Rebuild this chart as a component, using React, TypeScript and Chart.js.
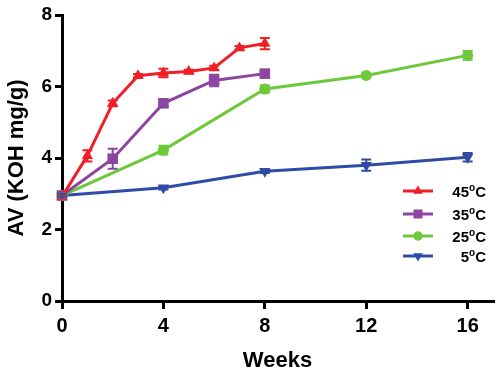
import React, { useEffect, useRef } from "react";
import { Chart, registerables } from "chart.js";

Chart.register(...registerables);

const xTicks = [0, 4, 8, 12, 16];
const yTicks = [0, 2, 4, 6, 8];

const labels = ["45", "35", "25", "5"];

const weeks45 = [0, 1, 2, 3, 4, 5, 6, 7, 8];
const av45 = [2.92, 4.06, 5.53, 6.3, 6.38, 6.42, 6.52, 7.08, 7.2];
const err45 = [0.05, 0.16, 0.08, 0.05, 0.12, 0.05, 0.06, 0.05, 0.16];

const weeks35 = [0, 2, 4, 6, 8];
const av35 = [2.95, 3.98, 5.53, 6.17, 6.36];
const err35 = [0.05, 0.28, 0.1, 0.16, 0.06];

const weeks25 = [0, 4, 8, 12, 16];
const av25 = [2.95, 4.22, 5.93, 6.31, 6.87];
const err25 = [0.05, 0.12, 0.1, 0.05, 0.12];

const weeks5 = [0, 4, 8, 12, 16];
const av5 = [2.95, 3.17, 3.63, 3.8, 4.02];
const err5 = [0.05, 0.05, 0.05, 0.16, 0.12];

const RED = "rgb(240,30,38)";
const PURPLE = "rgb(140,70,160)";
const GREEN = "rgb(110,200,60)";
const BLUE = "rgb(46,76,166)";

const FONT = "'Liberation Sans', Arial, sans-serif";

const series = [
  { w: weeks45, v: av45, e: err45, color: RED, style: "triangle", rot: 0, r: 6.5 },
  { w: weeks35, v: av35, e: err35, color: PURPLE, style: "rect", rot: 0, r: 7.5 },
  { w: weeks25, v: av25, e: err25, color: GREEN, style: "circle", rot: 0, r: 5.5 },
  { w: weeks5, v: av5, e: err5, color: BLUE, style: "triangle", rot: 180, r: 6.5 },
];

function drawMarker(ctx: CanvasRenderingContext2D, style: string, rot: number, x: number, y: number, r: number) {
  ctx.beginPath();
  if (style === "circle") {
    ctx.arc(x, y, r, 0, Math.PI * 2);
  } else if (style === "rect") {
    const s = Math.SQRT1_2 * r;
    ctx.rect(x - s, y - s, 2 * s, 2 * s);
  } else {
    const a0 = rot === 180 ? Math.PI / 2 : -Math.PI / 2;
    for (let i = 0; i < 3; i++) {
      const a = a0 + (i * 2 * Math.PI) / 3;
      const px = x + Math.cos(a) * r;
      const py = y + Math.sin(a) * r;
      if (i === 0) ctx.moveTo(px, py);
      else ctx.lineTo(px, py);
    }
    ctx.closePath();
  }
  ctx.fill();
}

const errorBarPlugin = {
  id: "errorBars",
  afterDatasetsDraw(chart: any) {
    const ctx = chart.ctx as CanvasRenderingContext2D;
    const xs = chart.scales.x;
    const ys = chart.scales.y;
    ctx.save();
    series.forEach((s) => {
      ctx.strokeStyle = s.color;
      ctx.lineWidth = 2;
      s.w.forEach((wk, i) => {
        const err = s.e[i];
        if (!err) return;
        const x = xs.getPixelForValue(wk);
        const yt = ys.getPixelForValue(s.v[i] + err);
        const yb = ys.getPixelForValue(s.v[i] - err);
        ctx.beginPath();
        ctx.moveTo(x, yt);
        ctx.lineTo(x, yb);
        ctx.moveTo(x - 5, yt);
        ctx.lineTo(x + 5, yt);
        ctx.moveTo(x - 5, yb);
        ctx.lineTo(x + 5, yb);
        ctx.stroke();
      });
    });
    ctx.restore();
  },
};

const legendPlugin = {
  id: "customLegend",
  afterDraw(chart: any) {
    const ctx = chart.ctx as CanvasRenderingContext2D;
    const ys = [191, 214, 236, 256];
    ctx.save();
    series.forEach((s, i) => {
      const y = ys[i];
      ctx.strokeStyle = s.color;
      ctx.fillStyle = s.color;
      ctx.lineWidth = 3;
      ctx.beginPath();
      ctx.moveTo(403, y);
      ctx.lineTo(433, y);
      ctx.stroke();
      drawMarker(ctx, s.style, s.rot, 418, y, s.r * 0.85);
      // text: number, superscript o, C  (right aligned at 485)
      ctx.fillStyle = "#000";
      ctx.textBaseline = "alphabetic";
      ctx.textAlign = "left";
      const big = `bold 15px ${FONT}`;
      const small = `bold 10px ${FONT}`;
      ctx.font = big;
      const wNum = ctx.measureText(labels[i]).width;
      const wC = ctx.measureText("C").width;
      ctx.font = small;
      const wO = ctx.measureText("o").width;
      const total = wNum + wO + wC;
      let x = 486 - total;
      const base = y + 6;
      ctx.font = big;
      ctx.fillText(labels[i], x, base);
      x += wNum;
      ctx.font = small;
      ctx.fillText("o", x, base - 6);
      x += wO;
      ctx.font = big;
      ctx.fillText("C", x, base);
    });
    ctx.restore();
  },
};

export default function App() {
  const ref = useRef<HTMLCanvasElement>(null);

  useEffect(() => {
    if (!ref.current) return;
    const datasets = series.map((s, i) => ({
      label: labels[i] + "°C",
      data: s.w.map((wk, j) => ({ x: wk, y: s.v[j] })),
      borderColor: s.color,
      backgroundColor: s.color,
      borderWidth: 3,
      pointStyle: s.style as any,
      pointRotation: s.rot,
      pointRadius: s.r,
      pointBorderWidth: 0,
      pointBackgroundColor: s.color,
      tension: 0,
      clip: false as any,
    }));
    const chart = new Chart(ref.current, {
      type: "line",
      data: { datasets },
      plugins: [errorBarPlugin, legendPlugin],
      options: {
        animation: false,
        responsive: false,
        layout: { padding: { top: 15, right: 10, left: 0, bottom: 0 } },
        plugins: {
          legend: { display: false },
          tooltip: { enabled: false },
        },
        scales: {
          x: {
            type: "linear",
            min: 0,
            max: 17,
            afterBuildTicks: (scale: any) => {
              scale.ticks = xTicks.map((v) => ({ value: v }));
            },
            afterFit: (scale: any) => {
              scale.height = 78;
            },
            border: { display: true, color: "#000", width: 3 },
            grid: { drawOnChartArea: false, drawTicks: true, tickLength: 8, color: "#000", lineWidth: 3 },
            ticks: {
              color: "#000",
              padding: 5,
              maxRotation: 0,
              font: { family: FONT, size: 20, weight: "bold" },
            },
            title: {
              display: true,
              text: "Weeks",
              color: "#000",
              padding: { top: 0, bottom: 5 },
              font: { family: FONT, size: 22, weight: "bold" },
            },
          },
          y: {
            type: "linear",
            min: 0,
            max: 8,
            afterBuildTicks: (scale: any) => {
              scale.ticks = yTicks.map((v) => ({ value: v }));
            },
            afterFit: (scale: any) => {
              scale.width = 62;
            },
            border: { display: true, color: "#000", width: 3 },
            grid: { drawOnChartArea: false, drawTicks: true, tickLength: 7, color: "#000", lineWidth: 3 },
            ticks: {
              color: "#000",
              padding: 3,
              font: { family: FONT, size: 19, weight: "bold" },
            },
            title: {
              display: true,
              text: "AV (KOH mg/g)",
              color: "#000",
              padding: { top: 4, bottom: 0 },
              font: { family: FONT, size: 22, weight: "bold" },
            },
          },
        },
      } as any,
    });
    return () => chart.destroy();
  }, []);

  return (
    <div style={{ position: "fixed", left: 0, top: 0, width: 503, height: 379, background: "#fff" }}>
      <canvas ref={ref} width={503} height={379} style={{ display: "block" }} />
    </div>
  );
}
